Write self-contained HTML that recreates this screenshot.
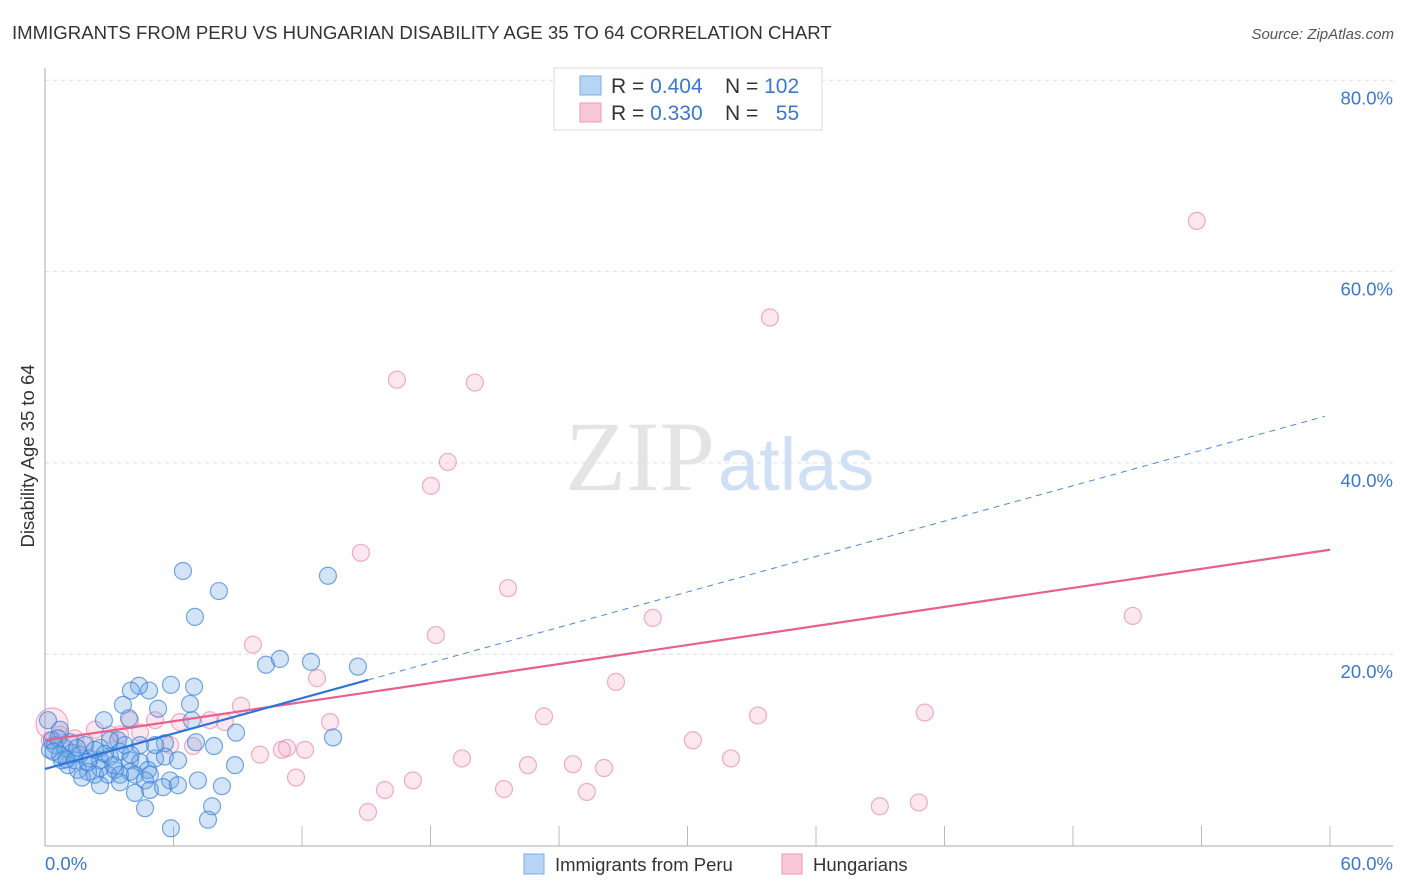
<!DOCTYPE html>
<html><head><meta charset="utf-8">
<style>
body{margin:0;background:#fff;font-family:"Liberation Sans",sans-serif;}
svg{display:block}
</style></head>
<body>
<svg id="chart" width="1406" height="892">
<text x="12" y="39" font-size="18.6" fill="#333">IMMIGRANTS FROM PERU VS HUNGARIAN DISABILITY AGE 35 TO 64 CORRELATION CHART</text>
<text x="1394" y="39" font-size="15" fill="#555" font-style="italic" text-anchor="end">Source: ZipAtlas.com</text>
<text x="34" y="456" font-size="18.5" fill="#333" text-anchor="middle" transform="rotate(-90 34 456)">Disability Age 35 to 64</text>
<g id="grid"></g>
<text x="715" y="490" font-size="100" fill="#e4e4e4" text-anchor="end" font-family="Liberation Serif, serif">ZIP</text>
<text x="718" y="490" font-size="74" fill="#cfe0f4">atlas</text>
<g id="pts"></g>
<g id="lines"></g>
<g>
<rect x="554" y="68" width="268" height="62" fill="#fff" stroke="#ddd"/>
<rect x="580" y="76" width="21" height="19" fill="#b8d4f4" stroke="#7aaee8"/>
<rect x="580" y="103" width="21" height="19" fill="#f9c8d7" stroke="#ef9ab6"/>
<text x="611" y="93" font-size="21" fill="#333">R = <tspan fill="#3a78d0">0.404</tspan></text>
<text x="725" y="93" font-size="21" fill="#333">N = <tspan fill="#3a78d0">102</tspan></text>
<text x="611" y="120" font-size="21" fill="#333">R = <tspan fill="#3a78d0"> 0.330</tspan></text>
<text x="725" y="120" font-size="21" fill="#333">N = <tspan fill="#3a78d0" xml:space="preserve">  55</tspan></text>
</g>
<g>
<rect x="524" y="854" width="20" height="20" fill="#b8d4f4" stroke="#7aaee8"/>
<text x="555" y="871" font-size="18.5" fill="#333">Immigrants from Peru</text>
<rect x="782" y="854" width="20" height="20" fill="#f9c8d7" stroke="#ef9ab6"/>
<text x="813" y="871" font-size="18.5" fill="#333">Hungarians</text>
</g>
</svg>
<script>
const xTicks=[0,60];
const yTicks=[20,40,60,80];
const blueX=[6.44,8.12,7.0,13.21,10.32,10.97,12.42,14.61,13.45,4.86,4.39,4.01,6.96,5.88,3.64,6.77,5.28,3.92,2.75,6.86,8.92,7.89,7.05,5.6,3.41,2.57,0.7,0.47,0.23,0.93,1.26,1.63,2.1,2.57,3.03,3.5,3.97,4.44,5.14,5.6,6.21,4.81,3.97,3.27,2.57,2.01,1.54,1.07,0.79,1.73,2.33,2.94,3.5,4.2,4.9,5.84,7.14,2.57,3.5,4.67,4.9,4.2,5.51,6.21,8.26,8.87,7.8,4.67,7.61,5.88,0.14,0.33,0.61,1.17,1.87,2.33,1.4,0.7,3.03,3.73,4.44,2.01,5.14,1.0,1.5,2.8,0.4,3.2,4.0];
const blueY=[28.7,26.6,23.9,28.2,18.9,19.5,19.2,18.7,11.3,16.2,16.7,16.2,16.6,16.8,14.7,14.8,14.3,13.3,13.1,13.1,11.8,10.4,10.8,10.7,11.0,10.2,12.1,10.5,10.0,10.2,9.7,9.5,9.1,8.9,9.3,9.8,8.9,8.7,9.1,9.3,8.9,7.9,7.7,7.9,8.1,7.7,7.9,8.4,8.9,7.1,7.4,7.4,7.4,7.4,7.4,6.8,6.8,6.3,6.6,6.8,5.8,5.5,6.1,6.3,6.2,8.4,4.1,3.9,2.7,1.8,13.1,11.0,11.2,10.8,10.5,10.0,8.9,9.5,11.0,10.5,10.5,8.7,10.5,9.0,10.2,9.6,9.8,8.4,9.5];
const pinkX=[53.78,33.85,16.43,20.07,18.81,18.02,14.75,21.62,9.71,18.25,28.38,50.79,12.7,26.66,9.15,23.3,33.29,41.08,13.31,3.97,6.3,7.7,8.4,2.33,5.14,10.04,11.3,12.14,11.06,6.91,30.25,19.47,32.03,17.18,11.72,22.55,24.65,26.1,15.87,21.43,25.3,15.08,38.98,40.8,1.4,3.03,3.5,0.7,1.87,4.44,5.84,0.23,0.33];
const pinkY=[65.3,55.2,48.7,48.4,40.1,37.6,30.6,26.9,21.0,22.0,23.8,24.0,17.5,17.1,14.6,13.5,13.6,13.9,12.9,13.1,12.9,13.1,12.9,12.1,13.1,9.5,10.2,10.0,10.0,10.4,11.0,9.1,9.1,6.8,7.1,8.4,8.5,8.1,5.8,5.9,5.6,3.5,4.1,4.5,11.2,11.6,11.6,11.6,10.8,11.8,10.5,11.0,12.7];
const pinkR=[8.5,8.5,8.5,8.5,8.5,8.5,8.5,8.5,8.5,8.5,8.5,8.5,8.5,8.5,8.5,8.5,8.5,8.5,8.5,8.5,8.5,8.5,8.5,8.5,8.5,8.5,8.5,8.5,8.5,8.5,8.5,8.5,8.5,8.5,8.5,8.5,8.5,8.5,8.5,8.5,8.5,8.5,8.5,8.5,8.5,8.5,8.5,8.5,8.5,8.5,8.5,8.5,16];
const blueFit=[8.0,0.617];
const pinkFit=[11.0,0.332];
const NS="http://www.w3.org/2000/svg";
const X=v=>45+v*(1285/60);
const Y=v=>845.5-v*(191.3/20);
function mk(tag,attrs,parent){const e=document.createElementNS(NS,tag);for(const k in attrs)e.setAttribute(k,attrs[k]);parent.appendChild(e);return e;}
const grid=document.getElementById('grid');
yTicks.forEach(t=>{
 const l=mk('line',{x1:45,x2:1393,y1:Y(t),y2:Y(t),stroke:'#ddd','stroke-dasharray':'4,4'},grid);
 
 
 const tx=mk('text',{x:1393,y:Y(t)+24,'font-size':18.5,fill:'#3a78d0','text-anchor':'end'},grid);
 tx.textContent=t.toFixed(1)+'%';
 
 
});
const ax=mk('line',{x1:45,x2:45,y1:68,y2:846,stroke:'#aaa'},grid);


const bx=mk('line',{x1:45,x2:1393,y1:846,y2:846,stroke:'#aaa'},grid);


for(let v=6;v<=60;v+=6){
 const tk=mk('line',{x1:X(v),x2:X(v),y1:826,y2:846,stroke:'#bbb'},grid);
 
 
}
xTicks.forEach((t,i)=>{
 const tx=mk('text',{x:i==0?45:1393,y:870,'font-size':18.5,fill:'#3a78d0','text-anchor':i==0?'start':'end'},grid);
 tx.textContent=t.toFixed(1)+'%';
 
 
});
const pts=document.getElementById('pts');
pinkX.forEach((v,i)=>{
 const c=mk('circle',{cx:X(v),cy:Y(pinkY[i]),r:pinkR[i],fill:'rgba(244,160,190,0.25)',stroke:'rgba(232,130,165,0.65)','stroke-width':1.2},pts);
 
 
});
blueX.forEach((v,i)=>{
 const c=mk('circle',{cx:X(v),cy:Y(blueY[i]),r:8.5,fill:'rgba(110,165,230,0.3)',stroke:'rgba(60,130,215,0.7)','stroke-width':1.2},pts);
 
 
});
const lines=document.getElementById('lines');
const pl=mk('line',{x1:X(0),y1:Y(pinkFit[0]),x2:X(60),y2:Y(pinkFit[0]+pinkFit[1]*60),stroke:'#e8608e','stroke-width':2.2},lines);


const bl=mk('line',{x1:X(0),y1:Y(blueFit[0]),x2:X(15.08),y2:Y(blueFit[0]+blueFit[1]*15.08),stroke:'#2f74d8','stroke-width':2.2},lines);


const bd=mk('line',{x1:X(15.08),y1:Y(blueFit[0]+blueFit[1]*15.08),x2:X(59.76),y2:Y(blueFit[0]+blueFit[1]*59.76),stroke:'#4a88dd','stroke-width':1,'stroke-dasharray':'6,5'},lines);


</script>
</body></html>
